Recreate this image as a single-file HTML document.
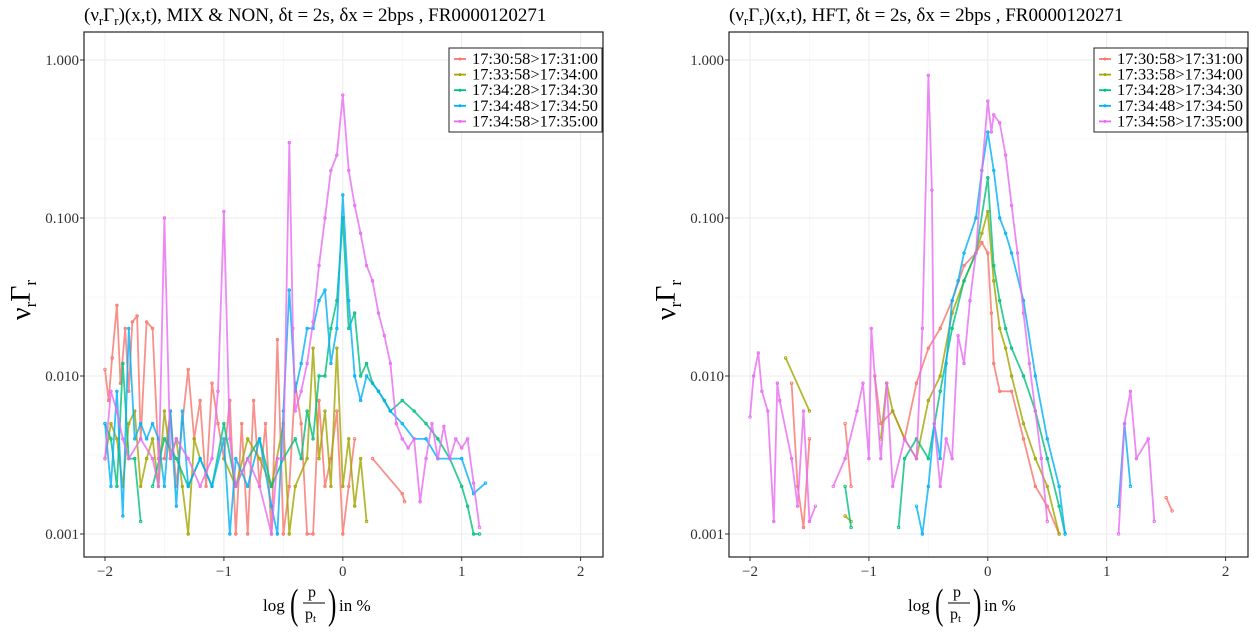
<!DOCTYPE html>
<html><head><meta charset="utf-8"><style>
body{margin:0;background:#fff;width:1257px;height:627px;overflow:hidden;font-family:"Liberation Serif",serif;}
svg text{font-family:"Liberation Serif",serif;}
</style></head><body>
<svg id="c" width="1257" height="627"></svg>
<script>
const colors=["#F8766D","#A3A500","#00BF7D","#00B0F6","#E76BF3"];
const seriesNames=["17:30:58>17:31:00","17:33:58>17:34:00","17:34:28>17:34:30","17:34:48>17:34:50","17:34:58>17:35:00"];
const yTicks=[1,0.1,0.01,0.001];
const yTickLabels=["1.000","0.100","0.010","0.001"];
const xTicks=[-2,-1,0,1,2];
const xTickLabels=["\u22122","\u22121","0","1","2"];
// Left panel (MIX & NON)
const L0x=[-2,-1.97,-1.94,-1.9,-1.87,-1.83,-1.8,-1.77,-1.73,-1.7,-1.65,-1.6,-1.55,-1.5,-1.45,-1.4,-1.35,-1.3,-1.25,-1.2,-1.15,-1.1,-1.05,-1.0,-0.95,-0.9,-0.85,-0.8,-0.75,-0.7,-0.65,-0.6,-0.55,-0.5,-0.45,-0.4,-0.35,-0.3,-0.25,-0.2,-0.15,-0.1,-0.05,0,0.05,0.1,0.2,0.25,0.5,0.52];
const L0y=[0.011,0.007,0.013,0.028,0.009,0.02,0.008,0.022,0.024,0.004,0.022,0.02,0.003,0.003,0.006,0.002,0.005,0.011,0.004,0.007,0.002,0.009,0.005,0.003,0.007,0.001,0.005,0.001,0.007,0.002,0.005,0.001,0.017,0.001,0.002,0.009,0.005,0.001,0.001,0.007,0.002,0.003,0.006,0.001,0.002,0.004,null,0.003,0.0018,0.0016];
const L1x=[-2,-1.95,-1.9,-1.85,-1.8,-1.75,-1.7,-1.65,-1.6,-1.55,-1.5,-1.45,-1.4,-1.35,-1.3,-1.25,-1.2,-1.1,-1.0,-0.9,-0.8,-0.7,-0.6,-0.5,-0.45,-0.4,-0.3,-0.25,-0.2,-0.15,-0.1,-0.05,0,0.05,0.1,0.15,0.2];
const L1y=[0.003,0.005,0.004,0.002,0.005,0.006,0.002,0.003,0.004,0.002,0.006,0.003,0.004,0.002,0.001,0.004,0.003,null,0.003,0.002,0.004,0.003,0.002,0.005,0.001,0.002,0.003,0.015,0.003,0.006,0.002,0.015,0.002,0.004,0.0015,0.003,0.0012];
const L2x=[-2,-1.95,-1.9,-1.85,-1.8,-1.75,-1.7,-1.65,-1.6,-1.5,-1.4,-1.3,-1.2,-1.1,-1.0,-0.9,-0.8,-0.7,-0.6,-0.5,-0.4,-0.35,-0.3,-0.25,-0.2,-0.15,-0.1,-0.05,0,0.05,0.1,0.15,0.2,0.25,0.3,0.35,0.4,0.5,0.6,0.7,0.8,0.9,1.0,1.05,1.1,1.15];
const L2y=[0.005,0.004,0.002,0.012,0.003,0.003,0.0012,null,0.002,0.004,0.003,0.002,0.003,0.002,0.005,0.002,0.003,0.004,0.002,0.003,0.004,0.003,0.006,0.004,0.01,0.01,0.02,0.03,0.1,0.02,0.025,0.01,0.012,0.009,0.008,0.007,0.006,0.007,0.006,0.005,0.004,0.003,0.002,0.0015,0.001,0.001];
const L3x=[-2,-1.95,-1.9,-1.85,-1.8,-1.75,-1.7,-1.65,-1.6,-1.55,-1.5,-1.45,-1.4,-1.35,-1.3,-1.2,-1.1,-1.0,-0.95,-0.9,-0.8,-0.7,-0.6,-0.55,-0.5,-0.45,-0.4,-0.35,-0.3,-0.25,-0.2,-0.15,-0.1,-0.05,0,0.05,0.1,0.15,0.2,0.3,0.4,0.5,0.6,0.7,0.8,0.9,1.0,1.1,1.2];
const L3y=[0.005,0.002,0.008,0.0013,0.02,0.004,0.005,0.004,0.005,0.004,0.002,0.006,0.0015,0.006,0.002,0.003,0.002,0.004,0.001,0.003,0.002,0.004,0.0015,0.001,0.006,0.035,0.008,0.012,0.02,0.02,0.03,0.035,0.012,0.02,0.14,0.03,0.01,0.007,0.01,0.008,0.006,0.005,0.004,0.004,0.003,0.003,0.003,0.0018,0.0021];
const L4x=[-2,-1.95,-1.9,-1.85,-1.8,-1.7,-1.6,-1.55,-1.5,-1.45,-1.4,-1.3,-1.2,-1.1,-1.05,-1.0,-0.95,-0.9,-0.8,-0.7,-0.6,-0.55,-0.5,-0.45,-0.42,-0.4,-0.35,-0.3,-0.25,-0.2,-0.15,-0.1,-0.05,0,0.05,0.1,0.15,0.2,0.25,0.3,0.35,0.4,0.45,0.5,0.55,0.6,0.65,0.7,0.75,0.8,0.85,0.9,0.95,1.0,1.05,1.1,1.15];
const L4y=[0.003,0.008,0.006,0.004,0.003,0.004,0.003,0.002,0.1,0.003,0.004,0.003,0.002,0.003,0.008,0.11,0.004,0.002,0.003,0.002,0.001,0.003,0.003,0.3,0.02,0.006,0.008,0.012,0.022,0.05,0.1,0.2,0.25,0.6,0.2,0.12,0.08,0.05,0.04,0.025,0.018,0.012,0.005,0.004,0.0035,0.004,0.0016,0.003,0.005,0.003,0.0048,0.003,0.004,0.0035,0.004,0.0021,0.0011];
// Right panel (HFT)
const R0x=[-1.65,-1.6,-1.55,-1.5,-1.4,-1.2,-1.15,-1.1,-0.95,-0.9,-0.8,-0.7,-0.6,-0.5,-0.4,-0.3,-0.2,-0.1,-0.05,0,0.03,0.05,0.1,0.2,0.3,0.4,0.5,0.6,0.7,1.5,1.55];
const R0y=[0.009,0.002,0.0011,0.004,null,0.005,0.002,null,0.01,0.005,0.006,0.004,0.009,0.015,0.02,0.03,0.05,0.06,0.07,0.06,0.025,0.012,0.008,0.008,0.004,0.002,0.0015,0.001,null,0.0017,0.0014];
const R1x=[-1.7,-1.5,-1.4,-1.2,-1.15,-1.0,-0.9,-0.85,-0.8,-0.7,-0.6,-0.5,-0.4,-0.3,-0.2,-0.1,-0.05,0,0.05,0.1,0.15,0.2,0.3,0.4,0.5,0.6];
const R1y=[0.013,0.006,null,0.0013,0.0012,null,0.004,0.009,0.006,0.004,0.003,0.007,0.01,0.025,0.04,0.06,0.08,0.11,0.04,0.02,0.015,0.01,0.005,0.003,0.002,0.001];
const R2x=[-1.2,-1.15,-1.0,-0.75,-0.7,-0.6,-0.5,-0.4,-0.3,-0.2,-0.1,0,0.05,0.1,0.15,0.2,0.3,0.4,0.5,0.6,0.65];
const R2y=[0.002,0.0011,null,0.0011,0.003,0.004,0.003,0.008,0.02,0.04,0.06,0.18,0.05,0.03,0.02,0.015,0.01,0.006,0.003,0.0015,0.001];
const R3x=[-0.6,-0.55,-0.5,-0.45,-0.4,-0.35,-0.3,-0.25,-0.2,-0.1,-0.05,0,0.05,0.1,0.15,0.2,0.3,0.4,0.5,0.6,0.65,0.8,1.1,1.15,1.2];
const R3y=[0.0015,0.001,0.002,0.005,0.003,0.012,0.03,0.04,0.06,0.1,0.2,0.35,0.2,0.1,0.08,0.06,0.03,0.01,0.004,0.002,0.001,null,0.0015,0.005,0.002];
const R4x=[-2,-1.97,-1.93,-1.9,-1.85,-1.8,-1.77,-1.75,-1.65,-1.6,-1.55,-1.5,-1.45,-1.4,-1.3,-1.2,-1.1,-1.05,-1.0,-0.98,-0.9,-0.85,-0.8,-0.7,-0.6,-0.55,-0.5,-0.47,-0.45,-0.4,-0.35,-0.3,-0.25,-0.2,-0.15,-0.1,-0.05,0,0.03,0.05,0.1,0.15,0.2,0.25,0.3,0.35,0.4,0.45,0.5,0.8,1.1,1.15,1.2,1.25,1.35,1.4];
const R4y=[0.0055,0.01,0.014,0.008,0.006,0.0012,0.009,0.007,0.003,0.0015,0.006,0.0012,0.0015,null,0.002,0.003,0.006,0.009,0.003,0.02,0.003,0.009,0.002,0.004,0.003,0.02,0.8,0.15,0.005,0.002,0.004,0.003,0.018,0.012,0.03,0.06,0.2,0.55,0.35,0.45,0.4,0.25,0.12,0.06,0.025,0.012,0.006,0.003,0.0012,null,0.001,0.005,0.008,0.003,0.004,0.0012];

const NS="http://www.w3.org/2000/svg";
const svg=document.getElementById('c');
function mk(tag,attrs,parent){const e=document.createElementNS(NS,tag);for(const k in attrs)e.setAttribute(k,attrs[k]);(parent||svg).appendChild(e);return e;}
function panel(px,titleHtml,data,pname){
  const x0=px, x1=px+519, y0=32, y1=557;
  const xs=v=>px+21+(v+2)*118.9;
  const ys=v=>534-(Math.log10(v)+3)*158;
  const g=mk('g',{});
  
  
  for(let v=-1.5;v<=2;v+=1){mk('line',{x1:xs(v),x2:xs(v),y1:y0,y2:y1,stroke:'#f3f3f3','stroke-width':0.6},g);}
  for(let d=-3;d<0;d++){const yy=ys(Math.pow(10,d+0.5));mk('line',{x1:x0,x2:x1,y1:yy,y2:yy,stroke:'#f3f3f3','stroke-width':0.6},g);}
  xTicks.forEach((v,i)=>{
    const l=mk('line',{x1:xs(v),x2:xs(v),y1:y0,y2:y1,stroke:'#ebebeb','stroke-width':1},g);
    
    mk('line',{x1:xs(v),x2:xs(v),y1:y1,y2:y1+4,stroke:'#333'},g);
    const t=mk('text',{x:xs(v),y:576,'text-anchor':'middle','font-size':15,fill:'#333'},g);t.textContent=xTickLabels[i];
    
    
  });
  yTicks.forEach((v,i)=>{
    const yy=ys(v);
    const l=mk('line',{x1:x0,x2:x1,y1:yy,y2:yy,stroke:'#ebebeb','stroke-width':1},g);
    
    mk('line',{x1:x0-4,x2:x0,y1:yy,y2:yy,stroke:'#333'},g);
    const t=mk('text',{x:x0-5,y:yy+5,'text-anchor':'end','font-size':15,fill:'#333'},g);t.textContent=yTickLabels[i];
    
    
  });
  data.forEach((s,si)=>{
    let d='';let pen=false;
    for(let i=0;i<s[0].length;i++){const y=s[1][i];if(y==null){pen=false;continue;}
      d+=(pen?'L':'M')+xs(s[0][i]).toFixed(1)+' '+ys(y).toFixed(1);pen=true;}
    const p=mk('path',{d:d,fill:'none',stroke:colors[si],'stroke-width':1.8,'stroke-opacity':0.8,'stroke-linejoin':'round'},g);
    
    
    for(let i=0;i<s[0].length;i++){const y=s[1][i];if(y==null)continue;
      const c=mk('circle',{cx:xs(s[0][i]),cy:ys(y),r:1.3,fill:'none',stroke:colors[si],'stroke-width':0.8},g);
      
      }
  });
  mk('rect',{x:x0,y:y0,width:x1-x0,height:y1-y0,fill:'none',stroke:'#222','stroke-width':1.2},g);
  const tt=mk('text',{x:x0,y:21,'font-size':19,fill:'#000'},g);tt.innerHTML=titleHtml;
  
  
  const lx=x1-154, ly=48;
  const lg=mk('g',{},g);
  
  
  mk('rect',{x:lx,y:ly,width:153,height:84,fill:'#fff',stroke:'#222','stroke-width':1},lg);
  seriesNames.forEach((n,i)=>{
    const yy=ly+11+i*15.6;
    const e=mk('g',{},lg);
    
    
    mk('line',{x1:lx+5,x2:lx+17,y1:yy,y2:yy,stroke:colors[i],'stroke-width':1.8},e);
    mk('circle',{cx:lx+11,cy:yy,r:1.5,fill:colors[i]},e);
    const t=mk('text',{x:lx+23,y:yy+5,'font-size':16,fill:'#000',textLength:126,lengthAdjust:'spacingAndGlyphs'},e);t.textContent=n;
  });
  const yt=mk('text',{x:0,y:0,'font-size':28,transform:`translate(${px-54},300) rotate(-90)`,'text-anchor':'middle'},g);
  yt.innerHTML='ν<tspan font-size="17" dy="6">r</tspan><tspan dy="-6">Γ</tspan><tspan font-size="17" dy="6">r</tspan>';
  
  
  const cx=px+259;
  const xg=mk('g',{},g);
  
  
  mk('text',{x:cx-80,y:611,'font-size':17},xg).textContent='log';
  mk('text',{x:cx-53,y:618,'font-size':42,'transform':`scale(0.6,1) translate(${(cx-53)/0.6-(cx-53)},0)`},xg).textContent='(';
  mk('text',{x:cx-35,y:597,'font-size':16},xg).textContent='p';
  mk('line',{x1:cx-40,x2:cx-18,y1:603,y2:603,stroke:'#000','stroke-width':1},xg);
  const pt=mk('text',{x:cx-38,y:619,'font-size':16},xg);pt.innerHTML='p<tspan font-size="11" dy="3">t</tspan>';
  mk('text',{x:cx-15,y:618,'font-size':42,'transform':`scale(0.6,1) translate(${(cx-15)/0.6-(cx-15)},0)`},xg).textContent=')';
  mk('text',{x:cx-4,y:611,'font-size':17},xg).textContent='in %';
}
const sub='<tspan font-size="13" dy="4">r</tspan><tspan dy="-4">';
panel(84,'(ν'+sub+'Γ</tspan>'+sub+')(x,t), MIX &amp; NON, δt = 2s, δx = 2bps , FR0000120271</tspan>',[[L0x,L0y],[L1x,L1y],[L2x,L2y],[L3x,L3y],[L4x,L4y]],'left-panel');
panel(729,'(ν'+sub+'Γ</tspan>'+sub+')(x,t), HFT, δt = 2s, δx = 2bps , FR0000120271</tspan>',[[R0x,R0y],[R1x,R1y],[R2x,R2y],[R3x,R3y],[R4x,R4y]],'right-panel');
</script>
</body></html>
